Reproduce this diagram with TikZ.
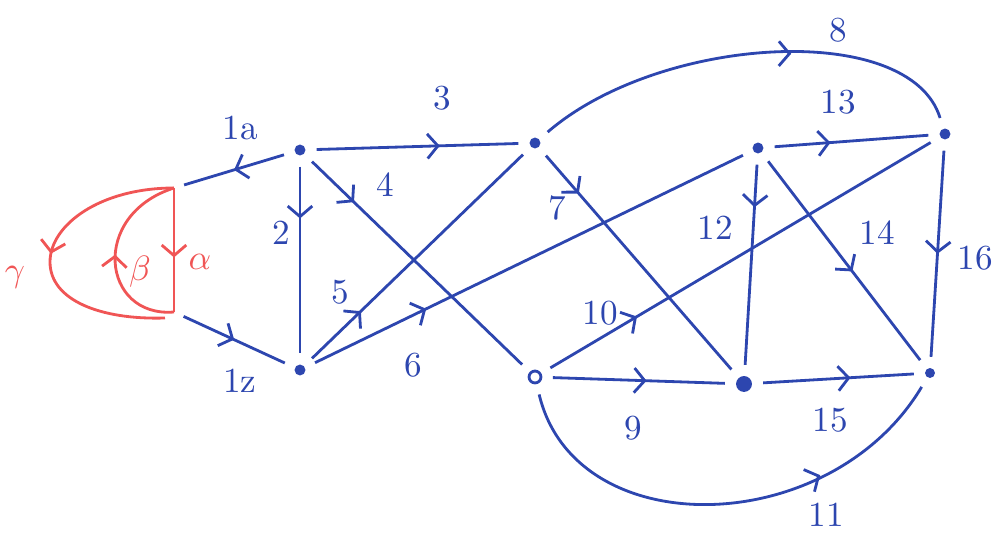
\documentclass[tikz,border=0pt]{standalone}
\usetikzlibrary{arrows.meta,decorations.markings}
\definecolor{ink}{RGB}{45,70,175}
\definecolor{pen}{RGB}{240,85,85}
\tikzset{
  vert/.style={circle,fill=ink,inner sep=1.1pt},
  flow/.style={thick,postaction={decorate,decoration={markings,
      mark=at position #1 with {\arrow{Straight Barb[length=3pt,width=7pt]}}}}},
  gap/.style={ink,shorten <=3pt,shorten >=3pt},
  lab/.style={ink,font=\normalsize},
}
\begin{document}
\begin{tikzpicture}[x=0.1mm,y=-0.1mm]
  \useasboundingbox (0,0) rectangle (997,534);
  % vertices
  \node[vert] (A) at (300,150) {};
  \node[vert] (B) at (300,370) {};
  \node[vert] (C) at (535,143) {};
  \node[vert,fill=white,draw=ink,thick,inner sep=1.2pt] (D) at (535,377) {};
  \node[vert] (E) at (758,148) {};
  \node[vert,inner sep=1.6pt] (F) at (744,384) {};
  \node[vert] (G) at (945,134) {};
  \node[vert,inner sep=1pt] (H) at (930,373) {};
  \coordinate (top) at (174,188);
  \coordinate (bot) at (174,312);
  % red loops
  \draw[flow=0.56,pen] (top) -- (bot);
  \draw[flow=0.5,pen] (bot) .. controls (102,318) and (89,215) .. (top);
  \draw[flow=0.5,pen] (top) .. controls (100,188) and (50,225) .. (50,262)
    .. controls (50,300) and (100,320) .. (165,318);
  % blue edges
  \draw[flow=0.5,gap] (A) -- (top);
  \draw[flow=0.5,gap] (bot) -- (B);
  \foreach \s/\t/\p in {A/B/0.3,A/C/0.6,A/D/0.22,B/C/0.25,B/E/0.27,C/F/0.2,
      D/F/0.54,D/G/0.24,E/F/0.24,E/G/0.38,E/H/0.55,G/H/0.5,F/H/0.57}
    \draw[flow=\p,gap] (\s) -- (\t);
  \draw[flow=0.6,gap] (C) .. controls (660,35) and (910,20) .. (G);
  \draw[flow=0.7,gap] (D) .. controls (575,545) and (830,540) .. (H);
  % labels
  \foreach \n/\x/\y in {1a/240/128,1z/240/381,2/281/233,3/442/98,4/385/185,
      5/340/292,6/413/365,7/557/208,8/838/30,9/633/428,10/600/313,11/826/515,
      12/715/228,13/838/102,14/877/233,15/830/420,16/975/258}
    \node[lab] (l\n) at (\x,\y) {\n};
  \node[lab,pen] (lg) at (15,277) {$\gamma$};
  \node[lab,pen] (lb) at (140,272) {$\beta$};
  \node[lab,pen] (la) at (200,262) {$\alpha$};
\end{tikzpicture}
\end{document}
